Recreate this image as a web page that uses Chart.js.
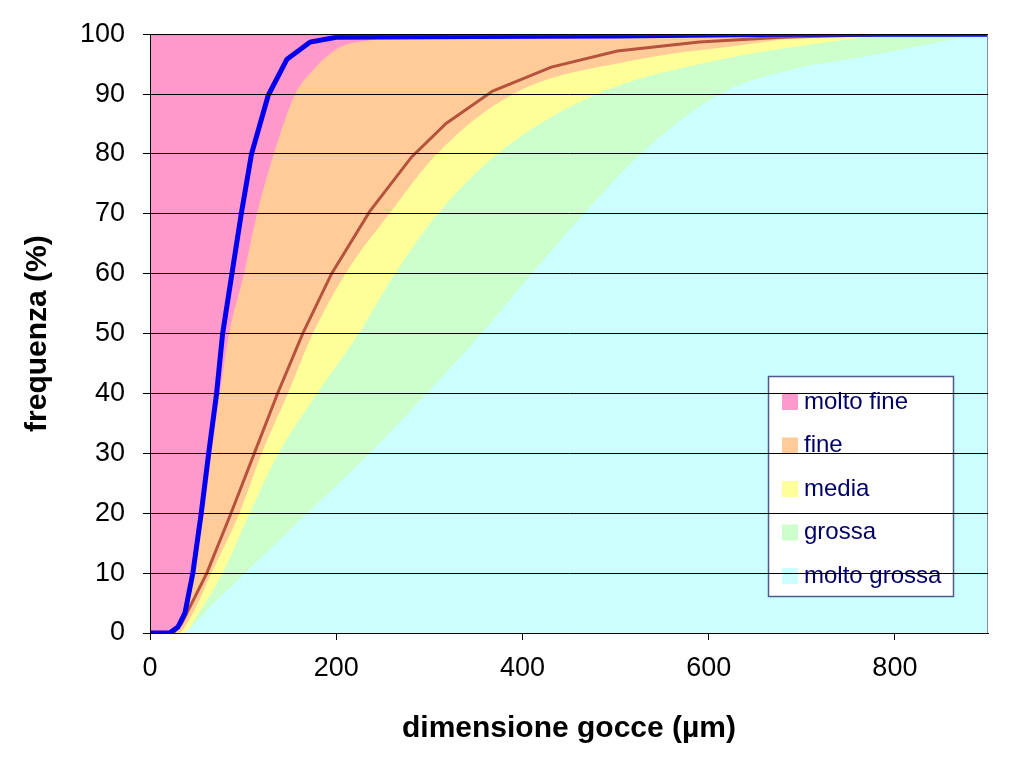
<!DOCTYPE html>
<html>
<head>
<meta charset="utf-8">
<script src="https://cdn.jsdelivr.net/npm/chart.js@4.4.1/dist/chart.umd.min.js"></script>
<style>
html, body { margin: 0; padding: 0; background: #fff; }
</style>
</head>
<body>
<canvas id="grafico" width="1024" height="778"></canvas>
<script>
// classi di gocce (legenda)
const classi = ['molto fine', 'fine', 'media', 'grossa', 'molto grossa'];
const coloriClassi = ['#FF99CC', '#FFCC99', '#FFFF99', '#CCFFCC', '#CCFFFF'];

// limiti tra le classi (x = µm, y = %)
const limite1X = [0, 23, 38, 48, 58, 66, 75, 85, 101, 115, 133, 156, 175, 204, 236, 271, 900];
const limite1Y = [0, 0, 4, 10, 20, 30, 40, 50, 60, 70, 80, 90, 94, 97.8, 99, 99.8, 100];
const limite2X = [0, 30, 45, 66, 96, 120, 148, 175, 210, 257, 308, 390, 518, 626, 751, 900];
const limite2Y = [0, 0, 3, 10, 20, 30, 40, 50, 60, 70, 80, 90, 95.6, 98, 100, 100];
const limite3X = [0, 35, 55, 78, 107, 138, 175, 224, 263, 309, 373, 480, 608, 697, 823, 900];
const limite3Y = [0, 0, 4, 10, 20, 30, 39, 50, 60, 70, 80, 90, 95.6, 98, 100, 100];
const limite4X = [0, 29, 75, 102, 169, 236, 297, 356, 410, 466, 527, 612, 697, 751, 858, 894, 900];
const limite4Y = [0, 0, 6, 10, 20, 30, 40, 50, 60, 70, 80, 90, 94.4, 95.8, 99, 100, 100];
const sfondoX = [0, 900];
const sfondoY = [100, 100];

// curve (linea blu e linea rossa)
const bluX = [0, 21, 30, 37.5, 46, 55, 63, 71.5, 78, 88, 98, 109, 127, 147, 172, 200, 350, 500, 680, 900];
const bluY = [0, 0, 1, 3.3, 10, 20, 30, 40, 50, 60, 70, 80, 89.8, 95.8, 98.7, 99.5, 99.6, 99.7, 100, 100];
const rossoX = [0, 25, 34, 61, 87, 112, 137, 164, 195, 236, 281, 318, 368, 431, 502, 590, 679, 805, 900];
const rossoY = [0, 0, 1.6, 10, 20, 30, 40, 50, 60, 70.4, 79.5, 85.1, 90.5, 94.5, 97.2, 98.7, 99.5, 100, 100];

const punti = (xs, ys) => xs.map((x, i) => ({ x: x, y: ys[i] }));
const font = 'Liberation Sans, Arial, sans-serif';

// area colorata: riempita dal limite fino in alto
function area(label, xs, ys, colore, fill) {
    return {
        label: label,
        data: punti(xs, ys),
        borderWidth: 0,
        borderColor: colore,
        backgroundColor: colore,
        fill: fill,
        cubicInterpolationMode: 'monotone',
        pointRadius: 0
    };
}

const datasets = [
    { label: 'curva blu', data: punti(bluX, bluY), borderColor: '#0000EE', borderWidth: 5, fill: false, pointRadius: 0 },
    { label: 'curva rossa', data: punti(rossoX, rossoY), borderColor: '#B5533C', borderWidth: 3, fill: false, pointRadius: 0 },
    area(classi[0], limite1X, limite1Y, coloriClassi[0], 'end'),
    area(classi[1], limite2X, limite2Y, coloriClassi[1], 'end'),
    area(classi[2], limite3X, limite3Y, coloriClassi[2], 'end'),
    area(classi[3], limite4X, limite4Y, coloriClassi[3], 'end'),
    area(classi[4], sfondoX, sfondoY, coloriClassi[4], 'origin')
];

// bordo grigio + legenda disegnata dentro il grafico (sotto la griglia)
const legendaInterna = {
    id: 'legendaInterna',
    afterDatasetsDraw(chart) {
        const c = chart.ctx;
        const a = chart.chartArea;
        c.save();
        c.strokeStyle = '#8a8a8a';
        c.lineWidth = 1;
        c.beginPath();
        c.moveTo(a.left, a.top + 0.5);
        c.lineTo(a.right - 0.5, a.top + 0.5);
        c.lineTo(a.right - 0.5, a.bottom);
        c.stroke();

        const x0 = 768, y0 = 376, w = 185, h = 220;
        c.fillStyle = '#fff';
        c.fillRect(x0, y0, w, h);
        c.strokeStyle = '#4c5a8c';
        c.lineWidth = 1.5;
        c.strokeRect(x0 + 0.5, y0 + 0.5, w, h);
        c.font = '24px ' + font;
        c.textBaseline = 'middle';
        classi.forEach((nome, i) => {
            const yc = 402 + i * 43.5;
            c.fillStyle = coloriClassi[i];
            c.fillRect(782, yc - 8, 16, 16);
            c.fillStyle = '#000066';
            c.fillText(nome, 804, yc);
        });
        c.restore();
    }
};

new Chart(document.getElementById('grafico'), {
    type: 'line',
    data: { datasets: datasets },
    options: {
        responsive: false,
        animation: false,
        layout: { padding: { top: 32, right: 36, left: 0, bottom: 0 } },
        plugins: { legend: { display: false }, tooltip: { enabled: false } },
        scales: {
            x: {
                type: 'linear', min: 0, max: 900,
                afterBuildTicks: s => { s.ticks = s.ticks.filter(t => t.value % 200 === 0); },
                afterFit: s => { s.height = 145; },
                ticks: { stepSize: 200, color: '#000', padding: 12, maxRotation: 0, autoSkip: false, font: { family: font, size: 27 } },
                grid: { drawOnChartArea: false, color: '#000', tickLength: 7, z: 1 },
                border: { color: '#000', z: 1 },
                title: { display: true, text: 'dimensione gocce (µm)', color: '#000', padding: { top: 0, bottom: 31 }, font: { family: font, size: 30, weight: 'bold' } }
            },
            y: {
                min: 0, max: 100,
                afterFit: s => { s.width = 150; },
                ticks: { stepSize: 10, color: '#000', padding: 18, font: { family: font, size: 27 } },
                grid: { color: '#000', tickLength: 7, z: 1 },
                border: { color: '#000', z: 1 },
                title: { display: true, text: 'frequenza (%)', color: '#000', padding: { top: 20, bottom: 0 }, font: { family: font, size: 30, weight: 'bold' } }
            }
        }
    },
    plugins: [legendaInterna]
});
</script>
</body>
</html>
